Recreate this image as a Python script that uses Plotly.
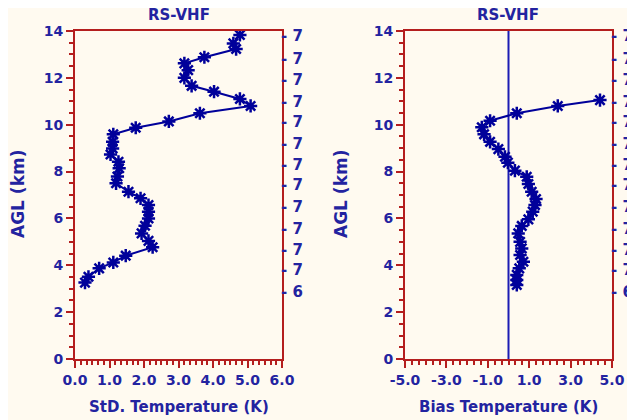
import plotly.graph_objects as go

# ---- data ----
alt_std = [13.83, 13.47, 13.23, 12.88, 12.62, 12.33, 12.00, 11.66, 11.41, 11.10, 10.80, 10.49,
           10.14, 9.87, 9.59, 9.27, 8.99, 8.73, 8.42, 8.14, 7.79, 7.50, 7.14, 6.86, 6.57, 6.29,
           6.00, 5.69, 5.36, 5.04, 4.77, 4.41, 4.12, 3.87, 3.51, 3.26]
std_temp = [4.78, 4.59, 4.67, 3.75, 3.17, 3.28, 3.17, 3.38, 4.03, 4.78, 5.09, 3.62,
            2.72, 1.76, 1.11, 1.09, 1.09, 1.03, 1.26, 1.28, 1.23, 1.19, 1.55, 1.90, 2.13, 2.13,
            2.13, 2.03, 1.93, 2.13, 2.25, 1.47, 1.11, 0.70, 0.39, 0.29]

alt_bias = [11.05, 10.80, 10.49, 10.17, 9.89, 9.59, 9.27, 8.96, 8.63, 8.38, 8.04, 7.78, 7.47,
            7.14, 6.83, 6.57, 6.29, 5.96, 5.68, 5.36, 5.00, 4.72, 4.44, 4.15, 3.87, 3.59, 3.37, 3.16]
bias_temp = [4.42, 2.38, 0.40, -0.89, -1.29, -1.18, -0.89, -0.49, -0.17, -0.03, 0.31, 0.88, 0.96,
             1.12, 1.33, 1.28, 1.17, 0.96, 0.64, 0.47, 0.56, 0.64, 0.56, 0.72, 0.52, 0.40, 0.40, 0.40]

std_ticks = [0, 1, 2, 3, 4, 5, 6]
std_tick_text = ["0.0", "1.0", "2.0", "3.0", "4.0", "5.0", "6.0"]
bias_ticks = [-5, -3, -1, 1, 3, 5]
bias_tick_text = ["-5.0", "-3.0", "-1.0", "1.0", "3.0", "5.0"]

right_tick_alt = [13.79, 12.83, 11.91, 10.98, 10.13, 9.20, 8.28, 7.43, 6.50, 5.58, 4.68, 3.79, 2.87]
right_tick_text = ["- 7"] * 12 + ["- 6"]

zero_line_x = [0, 0]
zero_line_y = [0, 14]

# ---- styles ----
W, H = 635, 420
OFF = 8  # page body margin seen in the reference
CREAM = "#fffaf0"
RED = "#b41e1e"
TXT = "#2323a0"
MARK = "#00009a"
FONT = "DejaVu Sans"

def px(x):
    return (x - OFF) / W

def py(y):
    return 1 - (y - OFF) / H

fig = go.Figure()

fig.add_trace(go.Scatter(x=std_temp, y=alt_std, mode="lines+markers",
                         line=dict(color=MARK, width=2),
                         marker=dict(symbol="asterisk-open", size=11,
                                     line=dict(color=MARK, width=2.5)),
                         xaxis="x", yaxis="y", showlegend=False))
fig.add_trace(go.Scatter(x=zero_line_x, y=zero_line_y, mode="lines",
                         line=dict(color="#1c1cb4", width=2),
                         xaxis="x2", yaxis="y2", showlegend=False))
fig.add_trace(go.Scatter(x=bias_temp, y=alt_bias, mode="lines+markers",
                         line=dict(color=MARK, width=2),
                         marker=dict(symbol="asterisk-open", size=11,
                                     line=dict(color=MARK, width=2.5)),
                         xaxis="x2", yaxis="y2", showlegend=False))

ydom = [py(359), py(31)]
tickfont = dict(family=FONT, size=14, color=TXT, weight="bold")
rightfont = dict(family=FONT, size=15, color=TXT, weight="bold")

common_ax = dict(showline=True, linecolor=RED, linewidth=2, mirror=True,
                 showgrid=False, zeroline=False, ticks="outside", ticklen=7,
                 tickwidth=2, tickcolor=RED, tickfont=tickfont, automargin=False)

right_ax = dict(side="right", range=[0, 14],
                tickmode="array", tickvals=right_tick_alt, ticktext=right_tick_text,
                showgrid=False, zeroline=False, showline=False, ticks="",
                ticklabelstandoff=-2, tickfont=rightfont, automargin=False)

fig.update_layout(
    width=W, height=H,
    margin=dict(l=0, r=0, t=0, b=0, autoexpand=False),
    paper_bgcolor=CREAM, plot_bgcolor=CREAM,
    xaxis=dict(domain=[px(75), px(282)], anchor="y", range=[0, 6],
               tickmode="array", tickvals=std_ticks, ticktext=std_tick_text,
               minor=dict(ticks="outside", ticklen=4, tickwidth=2, tickcolor=RED, dtick=1/6, tick0=0),
               **common_ax),
    yaxis=dict(domain=ydom, anchor="x", range=[0, 14], dtick=2, tick0=0,
               minor=dict(ticks="outside", ticklen=4, tickwidth=2, tickcolor=RED, dtick=0.5, tick0=0),
               **common_ax),
    xaxis2=dict(domain=[px(405), px(612)], anchor="y2", range=[-5, 5],
                tickmode="array", tickvals=bias_ticks, ticktext=bias_tick_text,
                minor=dict(ticks="outside", ticklen=4, tickwidth=2, tickcolor=RED, dtick=1/3, tick0=-5),
                **common_ax),
    yaxis2=dict(domain=ydom, anchor="x2", range=[0, 14], dtick=2, tick0=0,
                minor=dict(ticks="outside", ticklen=4, tickwidth=2, tickcolor=RED, dtick=0.5, tick0=0),
                **common_ax),
    yaxis3=dict(overlaying="y", anchor="x", **right_ax),
    yaxis4=dict(overlaying="y2", anchor="x2", **right_ax),
)

fig.add_trace(go.Scatter(x=[None], y=[None], xaxis="x", yaxis="y3", showlegend=False, hoverinfo="skip"))
fig.add_trace(go.Scatter(x=[None], y=[None], xaxis="x2", yaxis="y4", showlegend=False, hoverinfo="skip"))

title_font = dict(family=FONT, size=15, color=TXT)
ann = [
    dict(text="<b>RS-VHF</b>", x=px(178.5), y=py(15), yanchor="middle"),
    dict(text="<b>RS-VHF</b>", x=px(508.5), y=py(15), yanchor="middle"),
    dict(text="<b>StD. Temperature (K)</b>", x=px(178.5), y=py(407), yanchor="middle"),
    dict(text="<b>Bias Temperature (K)</b>", x=px(508.5), y=py(407), yanchor="middle"),
]
for a in ann:
    fig.add_annotation(xref="paper", yref="paper", showarrow=False, xanchor="center",
                       font=title_font, borderpad=0, **a)
for xc in (18, 341):
    fig.add_annotation(xref="paper", yref="paper", showarrow=False, xanchor="center",
                       yanchor="middle", textangle=-90, x=px(xc), y=py(194),
                       text="<b>AGL (km)</b>", font=dict(family=FONT, size=17, color=TXT))

fig.write_html("out.html")
